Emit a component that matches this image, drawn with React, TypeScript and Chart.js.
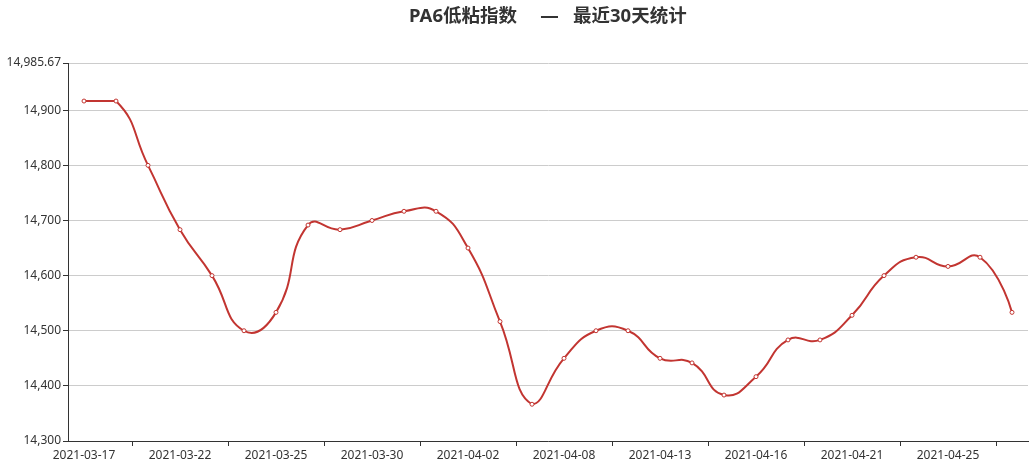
import React, { useEffect, useRef } from 'react';
import { Chart, registerables } from 'chart.js';

Chart.register(...registerables);

const TITLE_LEFT = 'PA6低粘指数';
const TITLE_DASH = '—';
const TITLE_RIGHT = '最近30天统计';

const DATES = [
  '2021-03-17', '2021-03-18', '2021-03-19', '2021-03-22', '2021-03-23', '2021-03-24',
  '2021-03-25', '2021-03-26', '2021-03-29', '2021-03-30', '2021-03-31', '2021-04-01',
  '2021-04-02', '2021-04-06', '2021-04-07', '2021-04-08', '2021-04-09', '2021-04-12',
  '2021-04-13', '2021-04-14', '2021-04-15', '2021-04-16', '2021-04-19', '2021-04-20',
  '2021-04-21', '2021-04-22', '2021-04-23', '2021-04-25', '2021-04-26', '2021-04-27',
];

const VALUES = [
  14916.67, 14916.67, 14800, 14683.33, 14600, 14500,
  14533.33, 14691.67, 14683.33, 14700, 14716.67, 14716.67,
  14650, 14516.67, 14366.67, 14450, 14500, 14500,
  14450, 14441.67, 14383.33, 14416.67, 14483.33, 14483.33,
  14528, 14600, 14633.33, 14616.67, 14633.33, 14533.33,
];

const Y_MIN = 14300;
const Y_MAX = 14985.67;
const Y_TICKS = [14300, 14400, 14500, 14600, 14700, 14800, 14900, 14985.67];
const LABEL_EVERY = 3;

const LINE_COLOR = '#c23531';
const SMOOTH = 0.5;

const clamp = (v: number, lo: number, hi: number) => Math.min(hi, Math.max(lo, v));

// ECharts-like smoothing: control points constrained to the bounding box of the points
const echartsSmooth = {
  id: 'echartsSmooth',
  beforeDatasetDraw(chart: any, args: any) {
    const meta = args.meta;
    const line = meta.dataset;
    if (!line) return;
    try {
      line.updateControlPoints(chart.chartArea, 'x');
    } catch (e) {}
    const pts = meta.data;
    const n = pts.length;
    let minX = Infinity, minY = Infinity, maxX = -Infinity, maxY = -Infinity;
    for (const p of pts) {
      minX = Math.min(minX, p.x); maxX = Math.max(maxX, p.x);
      minY = Math.min(minY, p.y); maxY = Math.max(maxY, p.y);
    }
    for (let i = 0; i < n; i++) {
      const p = pts[i];
      if (i === 0 || i === n - 1) {
        p.cp1x = p.x; p.cp1y = p.y; p.cp2x = p.x; p.cp2y = p.y;
        continue;
      }
      const prev = pts[i - 1];
      const next = pts[i + 1];
      const vx = (next.x - prev.x) * SMOOTH;
      const vy = (next.y - prev.y) * SMOOTH;
      let d0 = Math.hypot(p.x - prev.x, p.y - prev.y);
      let d1 = Math.hypot(next.x - p.x, next.y - p.y);
      const sum = d0 + d1;
      if (sum) { d0 /= sum; d1 /= sum; }
      p.cp1x = clamp(p.x - vx * d0, minX, maxX);
      p.cp1y = clamp(p.y - vy * d0, minY, maxY);
      p.cp2x = clamp(p.x + vx * d1, minX, maxX);
      p.cp2y = clamp(p.y + vy * d1, minY, maxY);
    }
    line._path = undefined;
  },
};

const titlePlugin = {
  id: 'customTitle',
  afterDraw(chart: any) {
    const ctx = chart.ctx;
    const area = chart.chartArea;
    const c = (area.left + area.right) / 2;
    const y = 17;
    ctx.save();
    ctx.font = 'bold 18.5px "Noto Sans", "Noto Sans CJK SC", sans-serif';
    ctx.fillStyle = '#333';
    ctx.textBaseline = 'middle';
    ctx.textAlign = 'right';
    ctx.fillText(TITLE_LEFT, c - 31, y);
    ctx.textAlign = 'center';
    ctx.fillText(TITLE_DASH, c + 1.5, y);
    ctx.textAlign = 'left';
    ctx.fillText(TITLE_RIGHT, c + 25, y);
    ctx.restore();
  },
};

export default function App() {
  const ref = useRef<HTMLCanvasElement>(null);

  useEffect(() => {
    const canvas = ref.current;
    if (!canvas) return;
    const tickFont = { family: '"Noto Sans", "Noto Sans CJK SC", sans-serif', size: 12 };
    const chart = new Chart(canvas, {
      type: 'line',
      data: {
        labels: DATES,
        datasets: [
          {
            data: VALUES,
            borderColor: LINE_COLOR,
            borderWidth: 2,
            tension: SMOOTH,
            pointRadius: 2,
            pointBorderWidth: 1,
            pointBorderColor: LINE_COLOR,
            pointBackgroundColor: '#fff',
            fill: false,
          },
        ],
      },
      options: {
        animation: false,
        responsive: false,
        devicePixelRatio: 1,
        layout: { padding: { top: 63, right: 6, left: 0, bottom: 0 } },
        plugins: {
          legend: { display: false },
          tooltip: { enabled: false },
          title: { display: false },
        },
        scales: {
          x: {
            type: 'category',
            offset: true,
            grid: {
              display: true,
              offset: true,
              drawOnChartArea: false,
              drawTicks: true,
              tickLength: 5,
              tickColor: (ctx: any) =>
                typeof ctx.index === 'number' && ctx.index % LABEL_EVERY === LABEL_EVERY - 1 ? '#333' : 'rgba(0,0,0,0)',
            },
            border: { display: true, color: '#333', width: 1 },
            ticks: {
              autoSkip: false,
              maxRotation: 0,
              minRotation: 0,
              padding: 2,
              color: '#333',
              font: tickFont,
              callback: (_v: any, i: number) => (i % LABEL_EVERY === 0 ? DATES[i] : ''),
            },
            afterFit: (scale: any) => {
              scale.height = 29;
            },
          },
          y: {
            type: 'linear',
            min: Y_MIN,
            max: Y_MAX,
            afterBuildTicks: (scale: any) => {
              scale.ticks = Y_TICKS.map((v) => ({ value: v }));
            },
            grid: {
              color: '#ccc',
              tickColor: '#333',
              tickLength: 5,
            },
            border: { display: true, color: '#333', width: 1 },
            ticks: {
              color: '#333',
              font: tickFont,
              padding: 2,
              callback: (v: any) =>
                Number(v).toLocaleString('en-US', { maximumFractionDigits: 2 }),
            },
            afterFit: (scale: any) => {
              scale.width = 68;
            },
          },
        },
      },
      plugins: [echartsSmooth, titlePlugin],
    } as any);
    return () => chart.destroy();
  }, []);

  return (
    <div style={{ position: 'absolute', left: 0, top: 0, width: 1034, height: 470 }}>
      <canvas ref={ref} width={1034} height={470} style={{ display: 'block', width: 1034, height: 470 }} />
    </div>
  );
}
